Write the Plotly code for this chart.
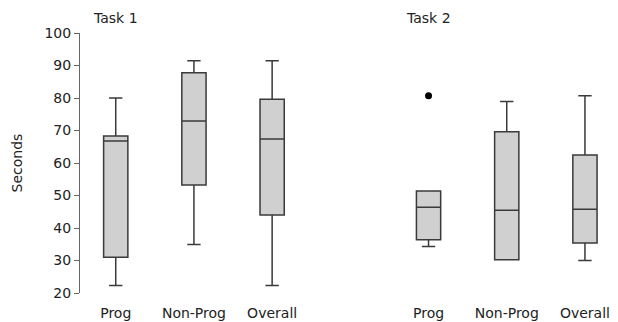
import plotly.graph_objects as go

categories = ["Prog", "Non-Prog", "Overall"]
tasks = ["Task 1", "Task 2"]

# Task 1 stats
t1_lower = [22.3, 34.9, 22.3]
t1_q1 = [31.0, 53.2, 44.0]
t1_median = [66.8, 72.9, 67.4]
t1_q3 = [68.3, 87.8, 79.6]
t1_upper = [80.0, 91.5, 91.5]

# Task 2 stats
t2_lower = [34.3, 30.2, 30.0]
t2_q1 = [36.4, 30.2, 35.4]
t2_median = [46.4, 45.5, 45.8]
t2_q3 = [51.4, 69.6, 62.5]
t2_upper = [51.4, 78.9, 80.7]

# outliers: (task index, category index, value)
outlier_task = [1]
outlier_cat = [0]
outlier_val = [80.7]

y_ticks = [20, 30, 40, 50, 60, 70, 80, 90, 100]

positions = {0: [0, 1, 2], 1: [4, 5, 6]}

fig = go.Figure()
stats = [
    (t1_lower, t1_q1, t1_median, t1_q3, t1_upper),
    (t2_lower, t2_q1, t2_median, t2_q3, t2_upper),
]
for ti, (lo, q1, med, q3, up) in enumerate(stats):
    for ci in range(len(categories)):
        fig.add_trace(go.Box(
            x=[positions[ti][ci]],
            q1=[q1[ci]], median=[med[ci]], q3=[q3[ci]],
            lowerfence=[lo[ci]], upperfence=[up[ci]],
            width=0.31, whiskerwidth=0.55,
            fillcolor="#d0d0d0",
            line=dict(color="#3a3a3a", width=1.5),
            boxpoints=False, showlegend=False, hoverinfo="skip",
        ))

fig.add_trace(go.Scatter(
    x=[positions[t][c] for t, c in zip(outlier_task, outlier_cat)],
    y=outlier_val, mode="markers",
    marker=dict(color="black", size=7), showlegend=False, cliponaxis=False,
))

for ti, name in enumerate(tasks):
    fig.add_annotation(x=positions[ti][0], y=1.0, xref="x", yref="paper",
                       yshift=5, text=name, showarrow=False,
                       yanchor="bottom", xanchor="center",
                       font=dict(size=14, color="#222"))

# the page body has an 8px margin, so the figure is sized to fit inside it
fig.update_layout(
    width=610, height=314,
    margin=dict(l=72, r=2, t=25, b=29),
    paper_bgcolor="white", plot_bgcolor="white",
    font=dict(family="DejaVu Sans", size=14, color="#222"),
    xaxis=dict(
        range=[-0.457, 6.397],
        tickvals=positions[0] + positions[1],
        ticktext=categories + categories,
        showgrid=False, zeroline=False, showline=False,
        ticks="outside", ticklen=7, tickcolor="rgba(0,0,0,0)",
        tickfont=dict(size=14),
    ),
    yaxis=dict(
        range=[20, 100], tickvals=y_ticks,
        showgrid=False, zeroline=False,
        showline=True, linecolor="#666", linewidth=1,
        ticks="outside", ticklen=5, tickcolor="#666",
        tickfont=dict(size=14),
        title=dict(text="Seconds", font=dict(size=14), standoff=18),
    ),
)

fig.write_html("out.html")
